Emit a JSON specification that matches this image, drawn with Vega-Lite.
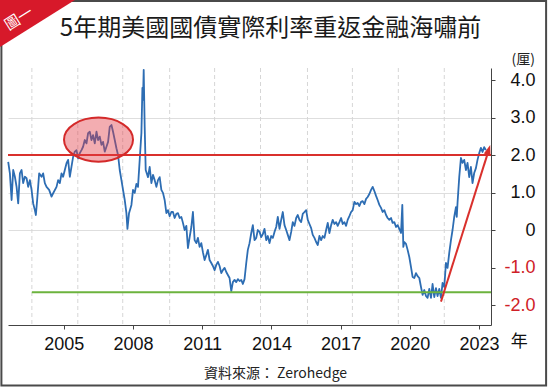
{
"$schema": "https://vega.github.io/schema/vega-lite/v6.json",
"width": 483, "height": 257,
"autosize": {"type": "none"},
"padding": {"left": 8, "top": 68, "right": 59, "bottom": 62},
"background": "white",
"config": {"view": {"stroke": null}},
"datasets": {
"series": [
{"t":2002.589,"v":1.82},{"t":2002.662,"v":1.51},{"t":2002.736,"v":0.80},{"t":2002.805,"v":1.60},{"t":2002.879,"v":1.42},{"t":2002.952,"v":1.15},{"t":2003.022,"v":0.71},{"t":2003.095,"v":1.51},{"t":2003.169,"v":1.60},{"t":2003.238,"v":1.25},{"t":2003.312,"v":1.42},{"t":2003.385,"v":1.38},{"t":2003.455,"v":1.15},{"t":2003.528,"v":1.33},{"t":2003.602,"v":1.07},{"t":2003.671,"v":0.71},{"t":2003.745,"v":0.53},{"t":2003.788,"v":0.40},{"t":2003.844,"v":0.80},{"t":2003.931,"v":1.51},{"t":2004.035,"v":1.42},{"t":2004.104,"v":1.51},{"t":2004.177,"v":1.25},{"t":2004.251,"v":1.15},{"t":2004.364,"v":1.07},{"t":2004.468,"v":0.89},{"t":2004.537,"v":0.98},{"t":2004.684,"v":1.15},{"t":2004.753,"v":1.33},{"t":2004.827,"v":1.25},{"t":2004.900,"v":1.51},{"t":2004.970,"v":1.42},{"t":2005.043,"v":1.60},{"t":2005.117,"v":1.78},{"t":2005.186,"v":1.87},{"t":2005.260,"v":1.42},{"t":2005.333,"v":1.69},{"t":2005.403,"v":1.95},{"t":2005.476,"v":2.09},{"t":2005.550,"v":2.13},{"t":2005.619,"v":1.91},{"t":2005.693,"v":2.05},{"t":2005.766,"v":2.13},{"t":2005.835,"v":2.22},{"t":2005.909,"v":2.40},{"t":2005.983,"v":2.31},{"t":2006.052,"v":2.58},{"t":2006.126,"v":2.62},{"t":2006.199,"v":2.40},{"t":2006.268,"v":2.53},{"t":2006.342,"v":2.31},{"t":2006.416,"v":2.62},{"t":2006.485,"v":2.40},{"t":2006.558,"v":2.49},{"t":2006.632,"v":2.27},{"t":2006.701,"v":2.35},{"t":2006.775,"v":2.09},{"t":2006.848,"v":2.22},{"t":2006.918,"v":2.35},{"t":2006.991,"v":2.75},{"t":2007.065,"v":2.80},{"t":2007.134,"v":2.62},{"t":2007.208,"v":2.40},{"t":2007.281,"v":2.18},{"t":2007.351,"v":2.00},{"t":2007.424,"v":1.60},{"t":2007.498,"v":1.33},{"t":2007.567,"v":1.07},{"t":2007.641,"v":0.80},{"t":2007.714,"v":0.45},{"t":2007.758,"v":0.03},{"t":2007.827,"v":0.45},{"t":2007.931,"v":0.67},{"t":2008.000,"v":1.07},{"t":2008.074,"v":0.99},{"t":2008.147,"v":1.23},{"t":2008.216,"v":1.15},{"t":2008.290,"v":1.87},{"t":2008.364,"v":2.59},{"t":2008.407,"v":3.79},{"t":2008.433,"v":3.47},{"t":2008.463,"v":4.27},{"t":2008.506,"v":2.75},{"t":2008.550,"v":1.60},
{"t":2008.649,"v":1.41},{"t":2008.723,"v":1.68},{"t":2008.797,"v":1.25},{"t":2008.866,"v":1.47},{"t":2008.939,"v":1.33},{"t":2009.013,"v":1.15},{"t":2009.082,"v":1.33},{"t":2009.156,"v":1.41},{"t":2009.229,"v":1.07},{"t":2009.299,"v":0.99},{"t":2009.372,"v":0.80},{"t":2009.446,"v":0.45},{"t":2009.515,"v":0.53},{"t":2009.589,"v":0.37},{"t":2009.662,"v":0.48},{"t":2009.732,"v":0.48},{"t":2009.805,"v":0.32},{"t":2009.879,"v":0.43},{"t":2009.948,"v":0.45},{"t":2010.022,"v":0.32},{"t":2010.095,"v":0.35},{"t":2010.165,"v":0.19},{"t":2010.238,"v":0.00},{"t":2010.312,"v":0.11},{"t":2010.381,"v":-0.48},{"t":2010.455,"v":-0.19},{"t":2010.528,"v":0.08},{"t":2010.597,"v":0.48},{"t":2010.671,"v":-0.27},{"t":2010.745,"v":-0.35},{"t":2010.814,"v":-0.21},{"t":2010.887,"v":-0.45},{"t":2010.961,"v":-0.35},{"t":2011.030,"v":-0.59},{"t":2011.104,"v":-0.80},{"t":2011.177,"v":-0.67},{"t":2011.247,"v":-0.53},{"t":2011.320,"v":-0.80},{"t":2011.394,"v":-0.88},{"t":2011.463,"v":-0.96},{"t":2011.537,"v":-1.07},{"t":2011.610,"v":-0.93},{"t":2011.680,"v":-0.85},{"t":2011.753,"v":-0.96},{"t":2011.827,"v":-1.15},{"t":2011.896,"v":-1.07},{"t":2011.970,"v":-1.01},{"t":2012.043,"v":-1.12},{"t":2012.113,"v":-1.20},{"t":2012.186,"v":-1.28},{"t":2012.260,"v":-1.63},{"t":2012.329,"v":-1.39},{"t":2012.403,"v":-1.33},{"t":2012.476,"v":-1.39},{"t":2012.545,"v":-1.31},{"t":2012.619,"v":-1.36},{"t":2012.693,"v":-1.33},{"t":2012.762,"v":-1.44},{"t":2012.835,"v":-1.31},{"t":2012.909,"v":-0.88},{"t":2012.978,"v":-0.53},
{"t":2013.052,"v":-0.35},{"t":2013.126,"v":-0.08},{"t":2013.195,"v":0.13},{"t":2013.268,"v":-0.27},{"t":2013.342,"v":-0.21},{"t":2013.411,"v":0.00},{"t":2013.485,"v":-0.05},{"t":2013.558,"v":-0.19},{"t":2013.628,"v":-0.11},{"t":2013.701,"v":0.03},{"t":2013.775,"v":-0.27},{"t":2013.844,"v":-0.16},{"t":2013.918,"v":-0.35},{"t":2013.991,"v":-0.16},{"t":2014.061,"v":-0.21},{"t":2014.134,"v":-0.05},{"t":2014.208,"v":0.08},{"t":2014.277,"v":0.35},{"t":2014.351,"v":0.03},{"t":2014.424,"v":0.27},{"t":2014.494,"v":0.48},{"t":2014.567,"v":0.13},{"t":2014.641,"v":0.00},{"t":2014.710,"v":-0.13},{"t":2014.784,"v":-0.27},{"t":2014.857,"v":-0.05},{"t":2014.926,"v":0.21},{"t":2015.000,"v":0.11},{"t":2015.074,"v":0.32},{"t":2015.143,"v":0.40},{"t":2015.216,"v":0.27},{"t":2015.290,"v":0.21},{"t":2015.359,"v":0.43},{"t":2015.433,"v":0.48},{"t":2015.506,"v":0.53},{"t":2015.576,"v":0.27},{"t":2015.649,"v":0.16},{"t":2015.723,"v":0.05},{"t":2015.792,"v":-0.13},{"t":2015.866,"v":-0.21},{"t":2015.939,"v":-0.32},{"t":2016.009,"v":-0.40},{"t":2016.082,"v":-0.16},{"t":2016.156,"v":-0.27},{"t":2016.225,"v":-0.16},{"t":2016.299,"v":-0.21},{"t":2016.372,"v":0.00},{"t":2016.442,"v":0.19},{"t":2016.515,"v":-0.08},{"t":2016.589,"v":0.13},{"t":2016.658,"v":0.27},{"t":2016.732,"v":0.16},{"t":2016.805,"v":0.21},{"t":2016.874,"v":0.11},{"t":2016.948,"v":0.21},{"t":2017.022,"v":0.32},{"t":2017.091,"v":0.16},{"t":2017.165,"v":0.21},{"t":2017.238,"v":0.11},{"t":2017.307,"v":0.27},{"t":2017.381,"v":0.37},{"t":2017.455,"v":0.48},{"t":2017.524,"v":0.53},{"t":2017.597,"v":0.75},{"t":2017.671,"v":0.69},{"t":2017.740,"v":0.72},{"t":2017.814,"v":0.64},{"t":2017.887,"v":0.75},{"t":2017.957,"v":0.77},{"t":2018.030,"v":0.69},{"t":2018.104,"v":0.83},{"t":2018.173,"v":0.88},{"t":2018.247,"v":0.96},{"t":2018.320,"v":1.07},{"t":2018.390,"v":1.15},{"t":2018.463,"v":1.04},{"t":2018.537,"v":0.91},{"t":2018.606,"v":0.80},{"t":2018.680,"v":0.67},{"t":2018.753,"v":0.59},{"t":2018.823,"v":0.48},{"t":2018.896,"v":0.53},{"t":2018.970,"v":0.40},{"t":2019.039,"v":0.32},{"t":2019.113,"v":0.27},{"t":2019.186,"v":0.32},{"t":2019.255,"v":0.19},{"t":2019.329,"v":0.21},{"t":2019.403,"v":0.08},{"t":2019.472,"v":0.13},{"t":2019.545,"v":0.03},{"t":2019.619,"v":-0.08},{"t":2019.675,"v":0.67},{"t":2019.719,"v":-0.45},{"t":2019.762,"v":-0.32},{"t":2019.835,"v":-0.37},{"t":2019.905,"v":-0.53},{"t":2019.978,"v":-0.72},{"t":2020.052,"v":-0.99},{"t":2020.121,"v":-1.25},{"t":2020.195,"v":-1.28},{"t":2020.268,"v":-1.15},{"t":2020.338,"v":-1.23},{"t":2020.411,"v":-1.28},{"t":2020.485,"v":-1.52},{"t":2020.554,"v":-1.73},{"t":2020.628,"v":-1.60},{"t":2020.701,"v":-1.76},{"t":2020.771,"v":-1.81},{"t":2020.844,"v":-1.57},{"t":2020.918,"v":-1.81},{"t":2020.987,"v":-1.44},{"t":2021.061,"v":-1.79},{"t":2021.134,"v":-1.55},{"t":2021.203,"v":-1.76},{"t":2021.277,"v":-1.57},{"t":2021.351,"v":-1.81},{"t":2021.420,"v":-1.41},{"t":2021.494,"v":-1.52},{"t":2021.567,"v":-0.88},{"t":2021.636,"v":-1.01},{"t":2021.710,"v":-0.61},{"t":2021.784,"v":-0.27},{"t":2021.853,"v":0.00},{"t":2021.926,"v":0.35},{"t":2022.000,"v":0.61},{"t":2022.035,"v":0.35},{"t":2022.069,"v":0.72},{"t":2022.143,"v":1.41},{"t":2022.216,"v":1.92},{"t":2022.286,"v":1.79},{"t":2022.359,"v":1.87},{"t":2022.433,"v":1.60},{"t":2022.502,"v":1.79},{"t":2022.576,"v":1.41},{"t":2022.649,"v":1.68},{"t":2022.719,"v":1.25},{"t":2022.792,"v":1.52},{"t":2022.866,"v":1.65},{"t":2022.935,"v":1.87},{"t":2023.009,"v":2.05},{"t":2023.082,"v":2.19},{"t":2023.152,"v":2.08},{"t":2023.225,"v":2.21},{"t":2023.299,"v":2.13}
],
"vgrid": [{"t": 2003.615}, {"t": 2005.606}, {"t": 2007.554}, {"t": 2009.589}, {"t": 2011.537}, {"t": 2013.528}, {"t": 2015.563}, {"t": 2017.511}, {"t": 2019.502}, {"t": 2021.494}],
"green": [{"t0": 2003.615, "t1": 2023.52, "v": -1.66}],
"arrow": [{"t0": 2021.351, "v0": -1.91, "t1": 2023.38, "v1": 2.05}],
"one": [{}]
},
"layer": [
{
 "data": {"name": "vgrid"},
 "mark": {"type": "rule", "color": "#d6d6d6", "strokeWidth": 1, "strokeDash": [4, 3]},
 "encoding": {"x": {"field": "t", "type": "quantitative"}}
},
{
 "data": {"name": "series"},
 "mark": {"type": "line", "color": "#2d6db3", "strokeWidth": 1.8, "strokeJoin": "round"},
 "encoding": {
  "x": {"field": "t", "type": "quantitative",
        "scale": {"domain": [2002.58, 2023.52], "nice": false, "zero": false},
        "axis": {
          "orient": "bottom",
          "values": [2005, 2008, 2011, 2014, 2017, 2020, 2023],
          "format": "d",
          "labelOverlap": false, "labelFlush": false,
          "labelFont": "Liberation Sans", "labelFontSize": 18, "labelColor": "#111111", "labelPadding": 6,
          "tickSize": 4, "tickColor": "#444444",
          "domainColor": "#444444", "domainWidth": 1,
          "grid": false,
          "title": "資料來源： Zerohedge", "titleFont": "Noto Sans CJK TC", "titleFontSize": 14, "titleFontWeight": "normal", "titleColor": "#222222",
          "titleX": 267, "titleY": 48.7, "titleAlign": "center", "titleBaseline": "middle"
        }},
  "y": {"field": "v", "type": "quantitative",
        "scale": {"domain": [-2.533, 4.32], "nice": false, "zero": false},
        "axis": {
          "orient": "right",
          "values": [-2, -1, 0, 1, 2, 3, 4],
          "labelExpr": "datum.value == 0 ? '0' : (datum.value < 0 ? '-' + format(-datum.value, '.1f') : format(datum.value, '.1f'))",
          "labelAlign": "right", "labelPadding": 40,
          "labelFont": "Liberation Sans", "labelFontSize": 18,
          "labelColor": {"condition": {"test": "datum.value < 0", "value": "#cf2027"}, "value": "#111111"},
          "tickSize": 4, "tickColor": "#444444", "domainColor": "#444444", "domainWidth": 1,
          "grid": true, "gridColor": "#dedede",
          "gridOpacity": {"condition": {"test": "datum.value >= 0 && datum.value <= 3", "value": 1}, "value": 0},
          "title": "(厘)", "titleAngle": 0, "titleX": 31.7, "titleY": -9, "titleAlign": "center", "titleBaseline": "middle",
          "titleFont": "Noto Sans CJK TC", "titleFontSize": 14, "titleFontWeight": "normal", "titleColor": "#222222"
        }}
 }
},
{
 "data": {"name": "one"},
 "mark": {"type": "rule", "color": "#d9302c", "strokeWidth": 2},
 "encoding": {"y": {"datum": 2, "type": "quantitative"}}
},
{
 "data": {"name": "green"},
 "mark": {"type": "rule", "color": "#6cb33e", "strokeWidth": 2},
 "encoding": {
  "x": {"field": "t0", "type": "quantitative"},
  "x2": {"field": "t1"},
  "y": {"field": "v", "type": "quantitative"}
 }
},
{
 "data": {"name": "arrow"},
 "mark": {"type": "rule", "color": "#d9302c", "strokeWidth": 2},
 "encoding": {
  "x": {"field": "t0", "type": "quantitative"},
  "x2": {"field": "t1"},
  "y": {"field": "v0", "type": "quantitative"},
  "y2": {"field": "v1"}
 }
},
{
 "data": {"name": "one"},
 "mark": {"type": "point", "shape": "M0,0L-0.7,2L0.7,2Z", "size": 100, "filled": true, "color": "#d9302c", "opacity": 1, "angle": 17.5},
 "encoding": {
  "x": {"datum": 2023.485, "type": "quantitative"},
  "y": {"datum": 2.267, "type": "quantitative"}
 }
},
{
 "data": {"name": "one"},
 "mark": {"type": "point", "shape": "M-1,0A1,0.638,0,1,1,1,0A1,0.638,0,1,1,-1,0Z", "size": 4761, "filled": true, "fill": "#e33b45", "fillOpacity": 0.42, "stroke": "#d42a2a", "strokeWidth": 2, "strokeOpacity": 1},
 "encoding": {
  "x": {"datum": 2006.504, "type": "quantitative"},
  "y": {"datum": 2.41, "type": "quantitative"}
 }
},
{
 "data": {"name": "one"},
 "mark": {"type": "text", "text": "年", "font": "Noto Sans CJK TC", "fontSize": 17, "color": "#111111", "align": "center", "baseline": "middle"},
 "encoding": {
  "x": {"datum": 2024.74, "type": "quantitative"},
  "y": {"datum": -2.99, "type": "quantitative"}
 }
},
{
 "data": {"name": "one"},
 "mark": {"type": "text", "text": "5年期美國國債實際利率重返金融海嘯前", "font": "Noto Sans CJK TC", "fontSize": 24, "color": "#1a1a1a", "align": "center", "baseline": "middle"},
 "encoding": {
  "x": {"datum": 2013.961, "type": "quantitative"},
  "y": {"datum": 5.373, "type": "quantitative"}
 }
},
{
 "data": {"name": "one"},
 "mark": {"type": "rect", "fill": null, "stroke": "#4a4a4a", "strokeWidth": 2},
 "encoding": {
  "x": {"datum": 2002.294, "type": "quantitative"},
  "x2": {"datum": 2025.909},
  "y": {"datum": 6.107, "type": "quantitative"},
  "y2": {"datum": -4.147}
 }
},
{
 "data": {"name": "one"},
 "mark": {"type": "point", "shape": "M0,0L2,0L0,1.253Z", "size": 5625, "filled": true, "color": "#d7192a", "opacity": 1},
 "encoding": {
  "x": {"datum": 2002.229, "type": "quantitative"},
  "y": {"datum": 6.133, "type": "quantitative"}
 }
},
{
 "data": {"name": "one"},
 "mark": {"type": "text", "text": "圖一", "font": "Noto Sans CJK TC", "fontSize": 15, "color": "white", "align": "center", "baseline": "middle", "angle": -32},
 "encoding": {
  "x": {"datum": 2003.052, "type": "quantitative"},
  "y": {"datum": 5.64, "type": "quantitative"}
 }
}
]
}
